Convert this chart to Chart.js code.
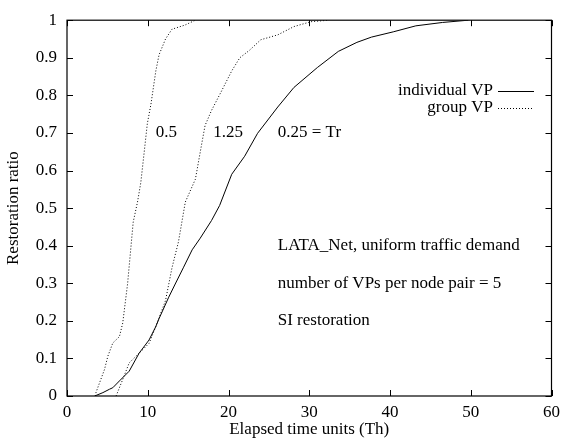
<!DOCTYPE html>
<html>
<head>
<meta charset="utf-8">
<script src="https://cdn.jsdelivr.net/npm/chart.js@4"></script>
<style>
  html, body { margin: 0; padding: 0; background: #fff; }
  canvas { display: block; }
</style>
</head>
<body>
<canvas id="myChart" width="566" height="440"></canvas>
<script>
// group VP, Tr = 0.5
const groupFastX = [3.5, 3.6, 4.65, 5.06, 5.67, 6.49, 6.9, 7.5, 8.2, 8.73, 9.14, 9.55, 9.95, 10.4, 11.0, 11.4, 12.2, 13.0, 14.6, 15.9];
const groupFastY = [0, 0.01, 0.071, 0.106, 0.141, 0.158, 0.194, 0.298, 0.463, 0.516, 0.568, 0.647, 0.725, 0.777, 0.865, 0.908, 0.95, 0.976, 0.987, 1.0];

// group VP, Tr = 1.25
const groupSlowX = [6.08, 6.9, 7.7, 8.93, 10.16, 10.98, 12.2, 13.0, 13.8, 14.65, 15.9, 16.7, 17.1, 17.9, 19.1, 20.4, 21.4, 22.6, 24.0, 26.1, 28.1, 30.2, 32.4];
const groupSlowY = [0, 0.044, 0.088, 0.114, 0.14, 0.184, 0.254, 0.341, 0.41, 0.516, 0.577, 0.673, 0.72, 0.76, 0.81, 0.865, 0.9, 0.92, 0.948, 0.961, 0.983, 0.996, 1.0];

// individual VP, Tr = 0.25
const indivX = [3.43, 4.45, 5.26, 5.67, 6.49, 7.7, 8.93, 10.16, 10.98, 11.4, 12.6, 13.4, 14.4, 15.5, 16.5, 17.9, 18.9, 20.4, 22.0, 23.6, 26.1, 28.1, 31.0, 33.6, 35.9, 37.7, 40.4, 43.2, 46.5, 49.7];
const indivY = [0, 0.009, 0.018, 0.022, 0.04, 0.066, 0.114, 0.149, 0.184, 0.206, 0.263, 0.298, 0.341, 0.389, 0.42, 0.467, 0.507, 0.59, 0.638, 0.699, 0.769, 0.821, 0.874, 0.917, 0.941, 0.955, 0.969, 0.985, 0.994, 1.0];

const xTicks = [0, 10, 20, 30, 40, 50, 60];
const yTicks = [0, 0.1, 0.2, 0.3, 0.4, 0.5, 0.6, 0.7, 0.8, 0.9, 1];

const curveLabels = [
  { text: "0.5", x: 11.0, y: 0.7 },
  { text: "1.25", x: 18.1, y: 0.7 },
  { text: "0.25 = Tr", x: 26.1, y: 0.7 }
];
const notes = [
  { text: "LATA_Net, uniform traffic demand", x: 26.1, y: 0.4 },
  { text: "number of VPs per node pair = 5", x: 26.1, y: 0.3 },
  { text: "SI restoration", x: 26.1, y: 0.2 }
];

const FONT = "17px 'Liberation Serif', 'DejaVu Serif', serif";

function pts(xs, ys) {
  return xs.map((x, i) => ({ x: x, y: ys[i] }));
}

// frame, inward ticks, labels and key (gnuplot style)
const decor = {
  id: 'decor',
  afterDraw(chart) {
    const c = chart.ctx;
    const a = chart.chartArea;
    const xs = chart.scales.x, ys = chart.scales.y;
    c.save();
    c.strokeStyle = '#000';
    c.lineWidth = 1.2;
    c.strokeRect(a.left, a.top, a.right - a.left, a.bottom - a.top);
    c.lineWidth = 1;
    c.beginPath();
    xTicks.forEach(v => {
      const p = Math.round(xs.getPixelForValue(v)) + 0.5;
      c.moveTo(p, a.bottom); c.lineTo(p, a.bottom - 6);
      c.moveTo(p, a.top); c.lineTo(p, a.top + 6);
    });
    yTicks.forEach(v => {
      const p = Math.round(ys.getPixelForValue(v)) + 0.5;
      c.moveTo(a.left, p); c.lineTo(a.left + 6, p);
      c.moveTo(a.right, p); c.lineTo(a.right - 6, p);
    });
    c.stroke();

    c.fillStyle = '#000';
    c.font = FONT;
    c.textBaseline = 'middle';
    c.textAlign = 'left';
    curveLabels.concat(notes).forEach(l => {
      c.fillText(l.text, xs.getPixelForValue(l.x), ys.getPixelForValue(l.y));
    });

    // key
    const kx = 493, ky = [91, 108];
    c.textAlign = 'right';
    c.fillText('individual VP', kx, ky[0]);
    c.fillText('group VP', kx, ky[1]);
    c.beginPath();
    c.moveTo(kx + 5, ky[0] + 0.5); c.lineTo(kx + 41, ky[0] + 0.5);
    c.stroke();
    c.setLineDash([1, 2]);
    c.beginPath();
    c.moveTo(kx + 5, ky[1] + 0.5); c.lineTo(kx + 41, ky[1] + 0.5);
    c.stroke();
    c.restore();
  }
};

const ctx = document.getElementById("myChart").getContext("2d");

let chart = new Chart(ctx, {
  type: 'line',
  data: {
    datasets: [{
      label: 'group VP 0.5',
      data: pts(groupFastX, groupFastY),
      borderColor: '#000',
      borderWidth: 1,
      borderDash: [1, 2],
      pointRadius: 0,
      tension: 0
    }, {
      label: 'group VP 1.25',
      data: pts(groupSlowX, groupSlowY),
      borderColor: '#000',
      borderWidth: 1,
      borderDash: [1, 2],
      pointRadius: 0,
      tension: 0
    }, {
      label: 'individual VP',
      data: pts(indivX, indivY),
      borderColor: '#000',
      borderWidth: 1,
      pointRadius: 0,
      tension: 0
    }]
  },
  options: {
    responsive: false,
    animation: false,
    layout: { padding: { top: 15, right: 9, left: 0, bottom: 0 } },
    plugins: {
      legend: { display: false },
      tooltip: { enabled: false }
    },
    scales: {
      x: {
        type: 'linear',
        min: 0,
        max: 60,
        afterBuildTicks: s => { s.ticks = xTicks.map(v => ({ value: v })); },
        afterFit: s => { s.height = 44; },
        grid: { display: false, drawTicks: false },
        border: { display: false },
        ticks: {
          color: '#000',
          padding: 6,
          maxRotation: 0,
          callback: v => String(v),
          font: { family: "'Liberation Serif'", size: 17 }
        },
        title: {
          display: true,
          text: 'Elapsed time units (Th)',
          color: '#000',
          padding: { top: 0, bottom: 0 },
          font: { family: "'Liberation Serif'", size: 17 }
        }
      },
      y: {
        min: 0,
        max: 1,
        afterBuildTicks: s => { s.ticks = yTicks.map(v => ({ value: v })); },
        afterFit: s => { s.width = 67; },
        grid: { display: false, drawTicks: false },
        border: { display: false },
        ticks: {
          color: '#000',
          padding: 10,
          callback: v => String(v),
          font: { family: "'Liberation Serif'", size: 17 }
        },
        title: {
          display: true,
          text: 'Restoration ratio',
          color: '#000',
          padding: { top: 3, bottom: 0 },
          font: { family: "'Liberation Serif'", size: 17 }
        }
      }
    }
  },
  plugins: [decor]
});
</script>
</body>
</html>
